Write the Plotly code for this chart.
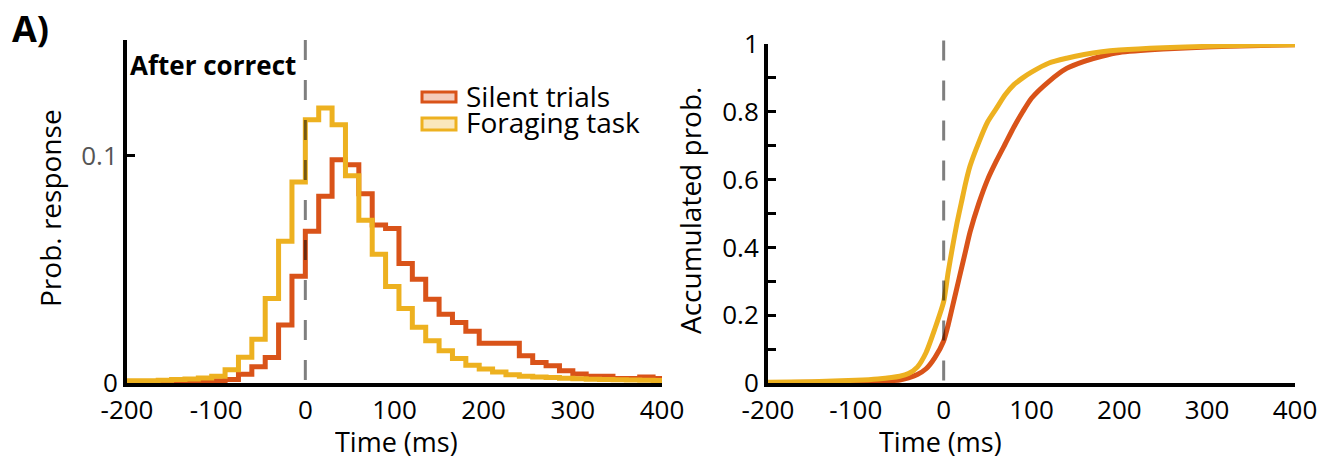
import plotly.graph_objects as go

W, H = 1332, 459

# ---------------- data ----------------
bin_left = [-210, -195, -180, -165, -150, -135, -120, -105, -90, -75, -60, -45, -30, -15,
            0, 15, 30, 45, 60, 75, 90, 105, 120, 135, 150, 165, 180, 195, 210, 225,
            240, 255, 270, 285, 300, 315, 330, 345, 360, 375, 390]
bin_width = 15

prob_silent = [0.0003, 0.0003, 0.0003, 0.0004, 0.0005, 0.0006, 0.0008, 0.0010, 0.0015, 0.0038,
               0.0072, 0.0112, 0.0255, 0.0470, 0.0668, 0.0822, 0.0982, 0.0960, 0.0833, 0.0695,
               0.0680, 0.0526, 0.0456, 0.0368, 0.0303, 0.0266, 0.0228, 0.0175, 0.0175, 0.0175,
               0.0120, 0.0090, 0.0076, 0.0054, 0.0040, 0.0030, 0.0030, 0.0020, 0.0020, 0.0026,
               0.0020]
prob_foraging = [0.0010, 0.0010, 0.0010, 0.0012, 0.0015, 0.0018, 0.0022, 0.0030, 0.0058, 0.0113,
                 0.0193, 0.0372, 0.0624, 0.0884, 0.1158, 0.1210, 0.1136, 0.0912, 0.0716, 0.0566,
                 0.0425, 0.0328, 0.0245, 0.0186, 0.0142, 0.0108, 0.0078, 0.0062, 0.0048, 0.0036,
                 0.0030, 0.0026, 0.0024, 0.0021, 0.0019, 0.0017, 0.0015, 0.0014, 0.0013, 0.0012,
                 0.0011]

cdf_t = [-200, -150, -100, -75, -50, -40, -30, -20, -10, 0, 5, 10, 15, 20, 25, 30, 40, 50,
         60, 70, 80, 90, 100, 120, 140, 160, 180, 200, 250, 300, 350, 400]
cdf_silent = [0.001, 0.002, 0.004, 0.006, 0.009, 0.015, 0.025, 0.042, 0.075, 0.124, 0.170,
              0.225, 0.280, 0.335, 0.390, 0.445, 0.530, 0.600, 0.655, 0.705, 0.755, 0.800,
              0.840, 0.890, 0.928, 0.949, 0.964, 0.975, 0.985, 0.991, 0.995, 0.998]
cdf_foraging = [0.002, 0.004, 0.008, 0.012, 0.020, 0.028, 0.047, 0.090, 0.160, 0.240, 0.325,
                0.400, 0.470, 0.530, 0.590, 0.640, 0.710, 0.770, 0.810, 0.850, 0.880, 0.900,
                0.917, 0.944, 0.958, 0.969, 0.977, 0.982, 0.989, 0.993, 0.996, 0.998]

x_ticks = [-200, -100, 0, 100, 200, 300, 400]
x_tick_labels = ["-200", "-100", "0", "100", "200", "300", "400"]
series_names = ["Silent trials", "Foraging task"]

RED = "#D95319"
YEL = "#EDB120"
FONT = "Open Sans"


def px_x(x):
    return x / W


def px_y(y):
    return 1 - y / H


step_x = bin_left + [bin_left[-1] + bin_width]

fig = go.Figure()
for vals, col, name in [(prob_silent, RED, series_names[0]), (prob_foraging, YEL, series_names[1])]:
    fig.add_trace(go.Scatter(x=step_x, y=vals + [vals[-1]], mode="lines", line_shape="hv",
                             line=dict(color=col, width=5), name=name, showlegend=False,
                             xaxis="x", yaxis="y"))
for vals, col, name in [(cdf_silent, RED, series_names[0]), (cdf_foraging, YEL, series_names[1])]:
    fig.add_trace(go.Scatter(x=cdf_t, y=vals, mode="lines", line_shape="spline",
                             line=dict(color=col, width=5, smoothing=0.6), name=name,
                             showlegend=False, xaxis="x2", yaxis="y2"))

ydom = [px_y(383), px_y(40)]
ydom2 = [px_y(383), px_y(44)]

axis_common = dict(showline=True, linecolor="black", linewidth=4, showgrid=False,
                   zeroline=False, automargin=False,
                   tickfont=dict(family=FONT, size=26, color="black"))

fig.update_layout(
    width=W, height=H,
    margin=dict(l=0, r=0, t=0, b=0, autoexpand=False),
    paper_bgcolor="white", plot_bgcolor="white",
    showlegend=False,
    font=dict(family=FONT, color="black"),
    xaxis=dict(domain=[px_x(127), px_x(662)], range=[-200, 400], anchor="y",
               tickvals=x_ticks, ticktext=x_tick_labels, ticks="", ticklabelstandoff=1,
               **axis_common),
    yaxis=dict(domain=ydom, range=[0, 0.1509], anchor="x",
               tickvals=[0, 0.1], ticktext=["0", "<span style='color:#555555'>0.1</span>"],
               ticks="inside", ticklen=8, tickwidth=3, tickcolor="black", **axis_common),
    xaxis2=dict(domain=[px_x(768), px_x(1295)], range=[-200, 400], anchor="y2",
                tickvals=x_ticks, ticktext=x_tick_labels, ticks="", ticklabelstandoff=1,
                **axis_common),
    yaxis2=dict(domain=ydom2, range=[0, 1], anchor="x2",
                tickvals=[0, 0.1, 0.2, 0.3, 0.4, 0.5, 0.6, 0.7, 0.8, 0.9, 1.0],
                ticktext=["0", "", "0.2", "", "0.4", "", "0.6", "", "0.8", "", "1"],
                ticks="inside", ticklen=8, tickwidth=3, tickcolor="black", **axis_common),
)

# dashed lines at t = 0
fig.add_shape(type="line", xref="x", yref="y domain", x0=0, x1=0, y0=1, y1=0,
              line=dict(color="rgba(0,0,0,0.5)", width=3, dash="20px,20px"), layer="above")
fig.add_shape(type="line", xref="x2", yref="y2 domain", x0=0, x1=0, y0=1.01, y1=0,
              line=dict(color="rgba(0,0,0,0.5)", width=3, dash="20px,20px"), layer="above")

# manual legend
legend_items = [(series_names[0], RED, "rgba(217,83,25,0.3)", 92, 102, 96),
                (series_names[1], YEL, "rgba(237,177,32,0.3)", 118, 130, 122)]
for name, col, fill, y0, y1, ty in legend_items:
    fig.add_shape(type="rect", xref="paper", yref="paper",
                  x0=px_x(422), x1=px_x(456), y0=px_y(y1), y1=px_y(y0),
                  line=dict(color=col, width=3), fillcolor=fill)
    fig.add_annotation(x=px_x(464), y=px_y(ty), xref="paper", yref="paper", text=name,
                       showarrow=False, xanchor="left", yanchor="middle",
                       font=dict(family=FONT, size=28, color="black"))

# texts: (text, x px, y px, xanchor, angle, size, bold, box height)
texts = [
    ("A)", 10, 29, "left", 0, 36, True, None),
    ("After correct", 128, 65, "left", 0, 26, True, None),
    ("Time (ms)", 396, 441, "center", 0, 27, False, 34),
    ("Time (ms)", 940, 441, "center", 0, 27, False, 34),
    ("Prob. response", 50, 208, "center", -90, 28, False, None),
    ("Accumulated prob.", 690, 211, "center", -90, 28, False, None),
]
for t, x, y, xa, ang, size, bold, hgt in texts:
    fig.add_annotation(x=px_x(x), y=px_y(y), xref="paper", yref="paper",
                       text=f"<b>{t}</b>" if bold else t, showarrow=False,
                       xanchor=xa, yanchor="middle", textangle=ang, height=hgt,
                       font=dict(family=FONT, size=size, color="black"))

fig.write_html("out.html", config={"displayModeBar": False},
               post_script="document.body.style.margin='0';document.body.style.overflow='hidden';")
